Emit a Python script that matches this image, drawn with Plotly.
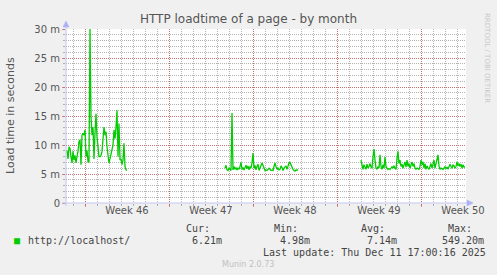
import plotly.graph_objects as go
from datetime import datetime, timedelta

# ---------------- data ----------------
title_text = "HTTP loadtime of a page - by month"
y_title = "Load time in seconds"
series_name = "http://localhost/"

seg_starts = ["2025-11-08 12:00", "2025-11-21 16:00", "2025-12-03 00:00"]
step_hours = 2

seg1 = [9.1, 7.6, 9.7, 9.4, 8.0, 6.9, 8.9, 7.4, 8.2, 6.9, 8.0, 8.9, 10.6, 10.9, 6.6,
        11.7, 12.0, 11.7, 12.6, 8.0, 9.1, 7.1, 7.1, 30.0, 14.9, 11.7, 13.1, 7.6, 12.0,
        15.4, 11.4, 9.7, 8.0, 8.0, 8.2, 8.9, 11.1, 13.1, 11.7, 12.3, 9.7, 8.6, 6.9, 7.6,
        8.6, 9.1, 10.0, 12.6, 11.1, 13.1, 16.0, 8.0, 13.7, 7.4, 7.6, 6.6, 7.4, 10.3, 6.3,
        5.7, 5.6]
seg2 = [6.0, 6.5, 5.7, 5.6, 6.0, 5.7, 5.6, 15.5, 5.7, 6.3, 5.8, 6.1, 5.7, 6.0, 5.8,
        6.3, 7.0, 5.8, 6.1, 5.7, 6.3, 6.5, 5.9, 6.4, 5.7, 6.3, 6.0, 6.9, 8.6, 6.0, 6.5,
        5.7, 6.3, 6.7, 5.6, 6.0, 6.3, 6.9, 6.5, 6.0, 5.6, 5.7, 5.6, 5.8, 6.0, 5.8, 5.6,
        5.7, 5.6, 6.3, 6.9, 6.3, 5.8, 6.0, 5.7, 5.8, 6.4, 6.1, 5.6, 6.0, 6.3, 6.4, 5.8,
        6.5, 6.9, 7.0, 6.5, 6.3, 5.8, 5.6, 5.5, 5.7, 5.6, 5.8]
seg3 = [7.4, 6.2, 5.8, 6.6, 6.0, 5.8, 6.7, 6.0, 6.3, 6.8, 6.2, 6.0, 8.0, 9.3, 7.4,
        6.0, 5.8, 6.3, 6.0, 8.3, 6.3, 5.8, 6.6, 6.0, 7.9, 6.3, 6.0, 5.8, 5.9, 5.8, 6.0,
        6.3, 6.0, 6.4, 6.0, 5.8, 7.7, 8.9, 6.8, 7.4, 6.3, 6.7, 6.0, 6.8, 7.1, 6.2, 7.4,
        6.3, 6.8, 6.0, 6.7, 7.1, 6.3, 6.8, 6.0, 5.8, 6.0, 5.9, 5.8, 6.3, 7.4, 6.6, 7.1,
        6.0, 6.8, 5.8, 6.4, 6.0, 5.8, 6.3, 6.8, 6.0, 6.9, 7.4, 6.0, 6.8, 7.1, 8.3, 6.4,
        5.8, 6.0, 5.9, 5.8, 6.0, 6.3, 5.9, 6.2, 5.8, 6.4, 6.7, 6.3, 6.0, 6.6, 6.4, 6.0,
        6.3, 7.1, 6.4, 6.8, 6.3, 6.7, 6.0, 6.6, 6.2, 6.21]

y_tick_vals = [0, 5, 10, 15, 20, 25, 30]
y_tick_text = ["0", "5 m", "10 m", "15 m", "20 m", "25 m", "30 m"]
week_starts = ["2025-11-10", "2025-11-17", "2025-11-24", "2025-12-01", "2025-12-08"]
week_label_pos = ["2025-11-13 12:00", "2025-11-20 12:00", "2025-11-27 12:00",
                  "2025-12-04 12:00", "2025-12-11 12:00"]
week_labels = ["Week 46", "Week 47", "Week 48", "Week 49", "Week 50"]
x_range = ["2025-11-08 10:00", "2025-12-11 18:00"]

stat_labels = ["Cur:", "Min:", "Avg:", "Max:"]
stat_values = ["6.21m", "4.98m", "7.14m", "549.20m"]
last_update = "Last update: Thu Dec 11 17:00:16 2025"
footer = "Munin 2.0.73"
side_text = "RRDTOOL / TOBI OETIKER"

# ---------------- layout geometry (pixels) ----------------
W, H = 497, 275
PL, PR, PT, PB = 66, 466, 29, 203

def px(xp):
    return (xp - PL) / (PR - PL)

def py(yp):
    return (PB - yp) / (PB - PT)

LINE_COLOR = "#00CC00"
TEXT = "#555555"
AXIS = "#c4c4f2"
ARROW = "#aeb0f5"
MINOR = "rgba(130,130,130,0.6)"
MAJOR = "rgba(215,70,70,0.6)"
DOTS = "1px,1px"

# ---------------- build series ----------------
xs, ys = [], []
for start, vals in zip(seg_starts, [seg1, seg2, seg3]):
    t0 = datetime.fromisoformat(start)
    for i, v in enumerate(vals):
        xs.append(t0 + timedelta(hours=step_hours * i))
        ys.append(v)
    xs.append(t0 + timedelta(hours=step_hours * len(vals)))
    ys.append(None)

fig = go.Figure()
fig.add_trace(go.Scatter(x=xs, y=ys, mode="lines", name=series_name,
                         line=dict(color=LINE_COLOR, width=1.3),
                         connectgaps=False, showlegend=False))
# helper trace for the label axis
fig.add_trace(go.Scatter(x=[week_label_pos[0]], y=[None], xaxis="x2", yaxis="y",
                         mode="lines", showlegend=False, hoverinfo="skip"))

fig.update_layout(
    width=W, height=H,
    margin=dict(l=PL, r=W - PR, t=PT, b=H - PB, pad=0),
    paper_bgcolor="#F0F0F0", plot_bgcolor="#FFFFFF",
    font=dict(family="DejaVu Sans", size=10, color=TEXT),
    title=dict(text=title_text, x=0.5, xref="container", xanchor="center",
               y=1 - 19 / H, yref="container", yanchor="middle",
               font=dict(family="DejaVu Sans", size=12, color=TEXT)),
    xaxis=dict(type="date", range=x_range, tickmode="array", tickvals=week_starts,
               showticklabels=False, showgrid=True, gridcolor=MAJOR, griddash=DOTS,
               gridwidth=1, ticks="outside", ticklen=3, tickcolor=MAJOR,
               showline=False, zeroline=False, fixedrange=True,
               minor=dict(tickmode="linear", tick0="2025-11-10", dtick=86400000,
                          showgrid=True, gridcolor=MINOR, griddash=DOTS, gridwidth=1,
                          ticks="outside", ticklen=2, tickcolor=MINOR)),
    xaxis2=dict(type="date", range=x_range, overlaying="x", anchor="y", side="bottom",
                tickmode="array", tickvals=week_label_pos, ticktext=week_labels,
                showgrid=False, showline=False, zeroline=False, ticks="",
                tickfont=dict(family="DejaVu Sans", size=10, color=TEXT)),
    yaxis=dict(range=[0, 30], tickmode="array", tickvals=y_tick_vals,
               ticktext=y_tick_text, showgrid=True, gridcolor=MAJOR, griddash=DOTS,
               gridwidth=1, ticks="outside", ticklen=3, tickcolor=MAJOR,
               showline=False, zeroline=False,
               tickfont=dict(family="DejaVu Sans", size=10, color=TEXT),
               minor=dict(tickmode="linear", tick0=0, dtick=1, showgrid=True,
                          gridcolor=MINOR, griddash=DOTS, gridwidth=1,
                          ticks="outside", ticklen=2, tickcolor=MINOR)),
)

shapes = [
    # y axis line and arrow
    dict(type="line", xref="paper", yref="paper", x0=px(PL), x1=px(PL),
         y0=py(PB + 3), y1=py(25), line=dict(color=AXIS, width=1)),
    dict(type="path", xref="paper", yref="paper",
         path=f"M {px(PL-3)} {py(27)} L {px(PL+3)} {py(27)} L {px(PL)} {py(21)} Z",
         fillcolor=ARROW, line=dict(color=ARROW, width=0.5)),
    # x axis line and arrow
    dict(type="line", xref="paper", yref="paper", x0=px(PL - 4), x1=px(PR + 3),
         y0=py(PB), y1=py(PB), line=dict(color=AXIS, width=1)),
    dict(type="path", xref="paper", yref="paper",
         path=f"M {px(PR+1)} {py(PB-3)} L {px(PR+1)} {py(PB+3)} L {px(PR+7)} {py(PB)} Z",
         fillcolor=ARROW, line=dict(color=ARROW, width=0.5)),
]

MONO = dict(family="DejaVu Sans Mono", size=10, color="#444444")
ann = []
def add_text(text, xpix, ypix, font, xanchor="left", textangle=0):
    ann.append(dict(text=text, xref="paper", yref="paper", x=px(xpix), y=py(ypix),
                    xanchor=xanchor, yanchor="middle", showarrow=False, font=font,
                    textangle=textangle, borderpad=0))

add_text(y_title, 11, 115, dict(family="DejaVu Sans", size=11, color=TEXT),
         xanchor="center", textangle=-90)
label_left = [185, 273, 360, 447]
value_left = [191, 279, 366, 441]
for lab, xl in zip(stat_labels, label_left):
    add_text(lab, xl, 228, MONO)
for val, xl in zip(stat_values, value_left):
    add_text(val, xl, 240, MONO)
add_text("■", 13, 240, dict(family="DejaVu Sans Mono", size=10, color=LINE_COLOR))
add_text(series_name, 27, 240, MONO)
add_text(last_update, 262, 252, MONO)
add_text(footer, 248, 264, dict(family="DejaVu Sans", size=8, color="#c0c0c0"),
         xanchor="center")
add_text(side_text, 487, 58, dict(family="DejaVu Sans", size=7, color="#c8c8c8"),
         xanchor="center", textangle=90)

fig.update_layout(shapes=shapes, annotations=ann)
fig.write_html("out.html")
